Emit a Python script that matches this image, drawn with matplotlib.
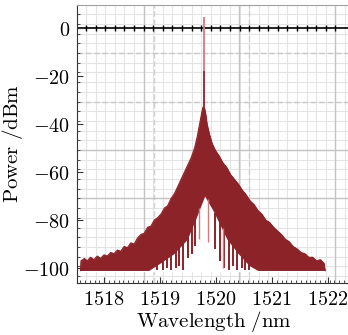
import matplotlib
matplotlib.use("Agg")
import numpy as np
import matplotlib.pyplot as plt
from matplotlib.ticker import MultipleLocator, FixedLocator, FuncFormatter

plt.rcParams["mathtext.fontset"] = "cm"

# upper edge of the spectrum (nm, dBm)
upper_wl = [1517.58, 1517.59, 1517.65, 1517.7, 1517.76, 1517.82, 1517.88, 1517.94,
            1518.0, 1518.06, 1518.12, 1518.18, 1518.24, 1518.3, 1518.36, 1518.42,
            1518.48, 1518.54, 1518.6, 1518.66, 1518.72, 1518.78, 1518.84, 1518.9,
            1518.96, 1519.02, 1519.08, 1519.14, 1519.2, 1519.26, 1519.32, 1519.38,
            1519.44, 1519.5, 1519.56, 1519.62, 1519.67, 1519.71, 1519.75, 1519.77,
            1519.79, 1519.81, 1519.84, 1519.88, 1519.93, 1519.99, 1520.05, 1520.12,
            1520.19, 1520.26, 1520.33, 1520.4, 1520.47, 1520.54, 1520.61, 1520.68,
            1520.75, 1520.82, 1520.89, 1520.96, 1521.03, 1521.1, 1521.17, 1521.24,
            1521.31, 1521.38, 1521.45, 1521.52, 1521.59, 1521.66, 1521.73, 1521.8,
            1521.87, 1521.93, 1521.95]
upper_db = [-101, -97, -96, -97, -95.5, -96.5, -95, -96,
            -94.5, -95, -93.5, -94, -92.5, -93, -91, -91.5,
            -89.5, -90, -87.5, -86, -85.5, -83, -82.5, -80,
            -79, -77.5, -75, -74, -71, -69, -66, -63,
            -60, -57, -54, -50, -45, -40, -35, -33,
            -33, -35, -40, -44, -48, -51, -53, -56,
            -58, -61, -63, -65, -67.5, -69.5, -72, -73.5,
            -76, -77.5, -80, -81, -83, -84.5, -86, -88,
            -89, -91, -92, -93.5, -94, -95.5, -95.5, -97,
            -96.5, -98, -101]

# lower edge of the dark band (the notch under the carrier)
lower_wl = [1517.58, 1518.8, 1519.0, 1519.25, 1519.49, 1519.65, 1519.8, 1519.95,
            1520.2, 1520.4, 1520.6, 1520.75, 1521.95]
lower_db = [-101, -101, -98, -94, -88, -79, -70, -76,
            -88, -94, -99, -101, -101]

# spikes dropping from the band into the notch
spike_wl = [1518.95, 1519.05, 1519.12, 1519.2, 1519.28, 1519.35, 1519.42, 1519.5,
            1519.57, 1519.63, 1519.99, 1520.07, 1520.15, 1520.23, 1520.3, 1520.38,
            1520.46, 1520.53, 1520.6]
spike_db = [-101, -101, -100, -101, -100, -99, -101, -96,
            -94, -91, -92, -97, -100, -101, -99, -101,
            -100, -101, -101]
light_wl = [1519.7, 1519.86, 1520.12]
light_db = [-88, -89, -100]

# carrier
peak_wl = 1519.78
peak_top = 4.6
peak_mid = -18
peak_base = -33

dark = "#8b2329"
light = "#cf7c7c"

fig = plt.figure(figsize=(3.48, 3.35), dpi=100)
ax = fig.add_axes([0.221, 0.155, 0.785, 0.83])
ax.set_xlim(1517.517, 1522.40)
ax.set_ylim(-106.25, 9.6)

# screen grid (fine + coarse)
fx = 0.1714
for i in range(-12, 30):
    x = 1518.71 + i * fx
    if 1517.52 < x < 1522.4:
        ax.axvline(x, color="#e4e4e4", lw=0.8, zorder=0)
fy = 4.04
for i in range(-30, 5):
    y = -10.4 + i * fy
    if -106 < y < 9.6:
        ax.axhline(y, color="#e4e4e4", lw=0.8, zorder=0)
for x in [1518.71, 1520.42, 1522.13]:
    ax.axvline(x, color="#c4c4c4", lw=1.0, zorder=0)
for x in [1518.89, 1520.6]:
    ax.axvline(x, color="#d0d0d0", lw=1.0, ls=(0, (4, 2)), zorder=0)
for y in [-50.8, -70.8]:
    ax.axhline(y, color="#c4c4c4", lw=1.0, zorder=0)
for y in [-10.4, -30.6]:
    ax.axhline(y, color="#c8c8c8", lw=1.0, ls=(0, (4, 2)), zorder=0)

# 0 dBm reference line with markers
ax.axhline(0, color="black", lw=1.2, zorder=1)
mk = [1518.71 + i * fx for i in range(-6, 21)]
ax.plot(mk, [0] * len(mk), ls="none", marker="|", ms=4, mew=1.0, color="black", zorder=1)

# spectrum
ax.fill_between(upper_wl, [-101] * len(upper_wl), upper_db, color=dark, lw=0.6, zorder=2)
ax.fill_between(lower_wl, -101.5, lower_db, color="white", lw=0, zorder=3)
spike_top = np.interp(spike_wl, lower_wl, lower_db) + 1
ax.vlines(spike_wl, spike_db, spike_top, color=dark, lw=1.4, zorder=4)
light_top = np.interp(light_wl, lower_wl, lower_db) + 1
ax.vlines(light_wl, light_db, light_top, color=light, lw=1.0, zorder=4)
ax.vlines([peak_wl], [peak_base], [peak_mid], color=dark, lw=1.3, zorder=4)
ax.vlines([peak_wl], [peak_mid], [peak_top], color=light, lw=1.3, zorder=4)
ax.plot(upper_wl, upper_db, color=dark, lw=0.8, zorder=4)

# axes styling
ax.spines["right"].set_visible(False)
ax.spines["top"].set_color("#a0a0a0")
ax.spines["top"].set_linestyle((0, (3, 1)))
ax.spines["left"].set_color("#333333")
ax.spines["bottom"].set_color("#333333")

ax.yaxis.set_major_locator(FixedLocator([0, -20, -40, -60, -80, -100]))
ax.yaxis.set_minor_locator(MultipleLocator(4.04, offset=-10.4 % 4.04))
ax.xaxis.set_major_locator(FixedLocator([1518, 1519, 1520, 1521, 1522]))
ax.xaxis.set_minor_locator(MultipleLocator(0.0857))
ax.tick_params(which="both", direction="in", color="#333333")
ax.tick_params(which="major", length=4, labelsize=14.5, pad=5)
ax.tick_params(which="minor", length=2)
ax.yaxis.set_major_formatter(FuncFormatter(lambda v, p: r"$%d$" % v))
ax.xaxis.set_major_formatter(FuncFormatter(lambda v, p: r"$%d$" % v))

ax.set_xlabel(r"$\mathrm{Wavelength\ /nm}$", fontsize=15, labelpad=0)
ax.set_ylabel(r"$\mathrm{Power\ /dBm}$", fontsize=15)
ax.yaxis.set_label_coords(-0.19, 0.5)

fig.savefig("out.png", dpi=100)
